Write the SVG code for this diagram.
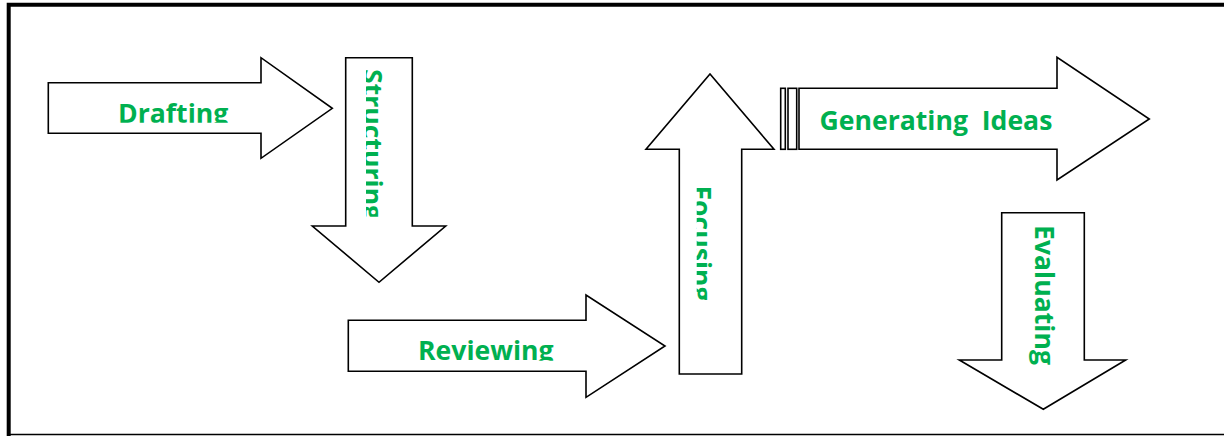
<svg xmlns="http://www.w3.org/2000/svg" width="1224" height="436" viewBox="0 0 1224 436">
<style>
.arr{fill:#fff;stroke:#000;stroke-width:1.6;stroke-linejoin:miter}
.lbl{font-family:"Open Sans","Liberation Sans",sans-serif;font-weight:700;font-size:26.6px;fill:#00B050;white-space:pre}
.frame{stroke:#000;fill:none}
</style>
<defs>
<clipPath id="cDraft" clipPathUnits="userSpaceOnUse"><rect x="0" y="0" width="1224" height="122.7"/></clipPath>
<clipPath id="cRev" clipPathUnits="userSpaceOnUse"><rect x="0" y="0" width="1224" height="360.7"/></clipPath>
<clipPath id="cStruct" clipPathUnits="userSpaceOnUse"><rect x="366" y="0" width="100" height="216.7"/></clipPath>
<clipPath id="cFocus" clipPathUnits="userSpaceOnUse"><rect x="696.7" y="0" width="100" height="300"/></clipPath>
</defs>
<rect width="1224" height="436" fill="#fff"/>
<g id="frame">
<path class="frame" d="M8.7,436 V4.7 H1224" stroke-width="4"/>
<path class="frame" d="M7,434.5 H1224" stroke-width="1.5"/>
</g>
<g id="connectors"></g>
<g id="drafting">
<polygon class="arr" points="48.3,82.7 261,82.7 261,57.7 332.3,108.3 261,158.3 261,133.3 48.3,133.3"/>
<g clip-path="url(#cDraft)"><text class="lbl" x="118" y="122.9">Drafting</text></g>
</g>
<g id="structuring">
<polygon class="arr" points="345.7,57.7 412.3,57.7 412.3,226 445.7,226 379,282.3 312.3,226 345.7,226"/>
<g clip-path="url(#cStruct)"><text class="lbl" transform="translate(362.7,69) rotate(90)">Structuring</text></g>
</g>
<g id="reviewing">
<polygon class="arr" points="348.3,320.3 586,320.3 586,295 665,346 586,397.3 586,371.3 348.3,371.3"/>
<g clip-path="url(#cRev)"><text class="lbl" x="418" y="360.3">Reviewing</text></g>
</g>
<g id="focusing">
<polygon class="arr" points="679.3,374 679.3,149.3 646,149.3 710,74 774,149.3 741.7,149.3 741.7,374"/>
<g clip-path="url(#cFocus)"><text class="lbl" transform="translate(692,185.5) rotate(90)">Focusing</text></g>
</g>
<g id="generating-ideas">
<rect class="arr" x="780.7" y="88.3" width="4.6" height="61"/>
<rect class="arr" x="788" y="88.3" width="8.7" height="61"/>
<polygon class="arr" points="799,88.3 1057,88.3 1057,57.3 1149.3,119 1057,180 1057,149.3 799,149.3"/>
<text class="lbl" x="819.5" y="130">Generating  Ideas</text>
</g>
<g id="evaluating">
<polygon class="arr" points="1001.7,212.7 1084.3,212.7 1084.3,360 1125.7,360 1043.3,409.3 959.3,360 1001.7,360"/>
<text class="lbl" transform="translate(1034.7,225) rotate(90)">Evaluating</text>
</g>
</svg>
